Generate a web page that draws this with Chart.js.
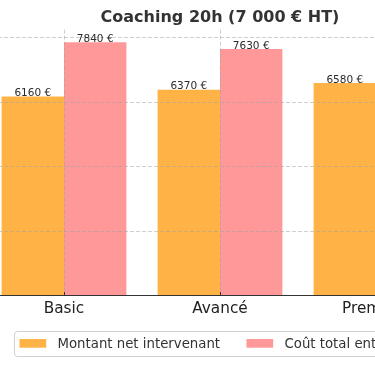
<!DOCTYPE html>
<html lang="fr">
<head>
<meta charset="utf-8">
<script src="https://cdn.jsdelivr.net/npm/chart.js@4.4.1/dist/chart.umd.min.js"></script>
<style>
    html, body { margin: 0; padding: 0; background: #fff; overflow: hidden; width: 375px; height: 366px; }
    #cadre { position: absolute; left: -30px; top: 0; width: 500px; height: 366px; }
</style>
</head>
<body>
<div id="cadre"><canvas id="graphique"></canvas></div>
<script>
const titre = "Coaching 20h (7 000 € HT)";
const categories = ["Basic", "Avancé", "Premium"];
const nomsSeries = ["Montant net intervenant", "Coût total entreprise"];
const montantNet = [6160, 6370, 6580];
const coutTotal = [7840, 7630, 7420];
const graduationsY = [0, 2000, 4000, 6000, 8000];
const maxY = 8232;

const couleurs = ["#FFB347", "#FF9999"];
const police = '"DejaVu Sans", "Liberation Sans", sans-serif';

// grille pointillée dessinée par-dessus les barres, comme matplotlib
const grilleDessus = {
    id: "grilleDessus",
    afterDatasetsDraw(chart) {
        const { ctx, chartArea, scales } = chart;
        ctx.save();
        ctx.strokeStyle = "rgba(160, 160, 160, 0.5)";
        ctx.lineWidth = 1;
        ctx.setLineDash([4, 2]);
        scales.y.ticks.forEach(t => {
            if (t.value === 0) return;
            const y = Math.round(scales.y.getPixelForValue(t.value)) + 0.5;
            ctx.beginPath();
            ctx.moveTo(chartArea.left, y);
            ctx.lineTo(chartArea.right, y);
            ctx.stroke();
        });
        categories.forEach((c, i) => {
            const x = Math.round(scales.x.getPixelForValue(i)) + 0.5;
            ctx.beginPath();
            ctx.moveTo(x, chartArea.top);
            ctx.lineTo(x, chartArea.bottom);
            ctx.stroke();
        });
        // axe du bas et petites graduations
        ctx.setLineDash([]);
        ctx.strokeStyle = "#333";
        const yb = Math.round(chartArea.bottom) - 0.5;
        ctx.beginPath();
        ctx.moveTo(chartArea.left, yb);
        ctx.lineTo(chartArea.right, yb);
        ctx.stroke();
        categories.forEach((c, i) => {
            const x = Math.round(scales.x.getPixelForValue(i)) + 0.5;
            ctx.beginPath();
            ctx.moveTo(x, yb - 3.5);
            ctx.lineTo(x, yb);
            ctx.stroke();
        });
        ctx.restore();
    }
};

const etiquettesValeurs = {
    id: "etiquettesValeurs",
    afterDatasetsDraw(chart) {
        const ctx = chart.ctx;
        ctx.save();
        ctx.font = "10.5px " + police;
        ctx.fillStyle = "#2b2b2b";
        ctx.textAlign = "center";
        ctx.textBaseline = "alphabetic";
        chart.data.datasets.forEach((ds, i) => {
            chart.getDatasetMeta(i).data.forEach((barre, j) => {
                ctx.fillText(ds.data[j] + " €", barre.x, barre.y - 0.5);
            });
        });
        ctx.restore();
    }
};

const legendeCadre = {
    id: "legendeCadre",
    afterDraw(chart) {
        const { ctx, chartArea } = chart;
        const patch = 26.7, ecart = 11.3, entre = 26.4, marge = 5;
        ctx.save();
        ctx.font = "13.3px " + police;
        const largeurs = chart.data.datasets.map(ds => ctx.measureText(ds.label).width);
        let total = marge * 2 + entre * (largeurs.length - 1);
        largeurs.forEach(w => { total += patch + ecart + w; });
        const cx = (chartArea.left + chartArea.right) / 2;
        const gauche = Math.round(cx - total / 2) + 0.5;
        const haut = 331.5, bas = 356.5;

        ctx.beginPath();
        ctx.roundRect(gauche, haut, Math.round(total), bas - haut, 3);
        ctx.fillStyle = "rgba(255, 255, 255, 0.8)";
        ctx.fill();
        ctx.strokeStyle = "#d0d0d0";
        ctx.lineWidth = 1;
        ctx.stroke();

        let x = gauche + marge;
        chart.data.datasets.forEach((ds, i) => {
            ctx.fillStyle = ds.backgroundColor;
            ctx.fillRect(x, 339, patch, 8.7);
            ctx.fillStyle = "#333";
            ctx.textBaseline = "alphabetic";
            ctx.fillText(ds.label, x + patch + ecart, 348.3);
            x += patch + ecart + largeurs[i] + entre;
        });
        ctx.restore();
    }
};

const ctx = document.querySelector("#graphique").getContext("2d");
new Chart(ctx, {
    type: "bar",
    data: {
        labels: categories,
        datasets: [
            { label: nomsSeries[0], data: montantNet, backgroundColor: couleurs[0], borderWidth: 0,
              categoryPercentage: 0.8, barPercentage: 1.0 },
            { label: nomsSeries[1], data: coutTotal, backgroundColor: couleurs[1], borderWidth: 0,
              categoryPercentage: 0.8, barPercentage: 1.0 }
        ]
    },
    options: {
        responsive: true,
        maintainAspectRatio: false,
        animation: false,
        layout: { padding: { left: 16, right: 16, top: 0, bottom: 46.3 } },
        plugins: {
            legend: { display: false },
            tooltip: { enabled: false },
            title: {
                display: true,
                text: titre,
                color: "#333",
                font: { family: police, size: 16, weight: "bold" },
                padding: { top: 8, bottom: 2.4 }
            }
        },
        scales: {
            x: {
                grid: { display: false, drawTicks: false },
                border: { display: false },
                ticks: {
                    color: "#222",
                    font: { family: police, size: 15.3 },
                    padding: 3.8,
                    autoSkip: false,
                    maxRotation: 0
                },
                afterFit(axe) { axe.height = 24; }
            },
            y: {
                min: 0,
                max: maxY,
                grid: { display: false, drawTicks: false },
                border: { display: false },
                ticks: { display: false },
                afterBuildTicks(axe) { axe.ticks = graduationsY.map(v => ({ value: v })); },
                afterFit(axe) { axe.width = 0; }
            }
        }
    },
    plugins: [grilleDessus, etiquettesValeurs, legendeCadre]
});
</script>
</body>
</html>
